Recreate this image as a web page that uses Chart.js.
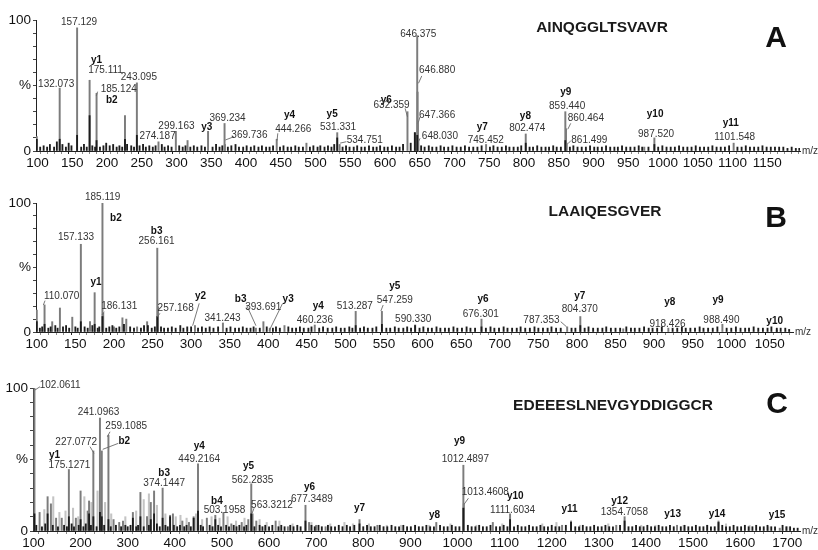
<!DOCTYPE html>
<html>
<head>
<meta charset="utf-8">
<script src="https://cdn.jsdelivr.net/npm/chart.js@4.4.1/dist/chart.umd.min.js"></script>
<style>
body { margin: 0; background: #fff; width: 818px; height: 550px; overflow: hidden; position: relative; font-family: "Liberation Sans", Arial, sans-serif; }
.panel { position: absolute; left: 0; width: 818px; }
.seq { position: absolute; font-weight: bold; font-size: 15.5px; color: #1a1a1a; transform: translate(-50%, -50%); white-space: nowrap; }
.tag { position: absolute; font-weight: bold; font-size: 30px; color: #111; transform: translate(-50%, -50%); }
</style>
</head>
<body>
<div class="panel" style="top:0;height:172px"><canvas id="cA" width="818" height="172"></canvas></div>
<div class="panel" style="top:178px;height:174px"><canvas id="cB" width="818" height="174"></canvas></div>
<div class="panel" style="top:368px;height:182px"><canvas id="cC" width="818" height="182"></canvas></div>
<div class="seq" id="seqA" style="left:602px;top:27px"></div>
<div class="tag" id="tagA" style="left:776px;top:37px"></div>
<div class="seq" id="seqB" style="left:605px;top:211px"></div>
<div class="tag" id="tagB" style="left:776px;top:217px"></div>
<div class="seq" id="seqC" style="left:613px;top:405px"></div>
<div class="tag" id="tagC" style="left:777px;top:403px"></div>
<script>
// sequences and panel letters
const sequences = ['AINQGGLTSVAVR', 'LAAIQESGVER', 'EDEEESLNEVGYDDIGGCR']
const panelTags = ['A', 'B', 'C']

// y axis tick labels (relative intensity)
const yTickValues = [0, 50, 100]
const yTickNames = ['0', '%', '100']

// ---- panel A : [m/z, %] ----
const peaksA = [[99.1,11],[132.07,48],[157.13,94],[175.11,54],[185.12,44],[226,27],[243.10,52],[274.19,7],[299.16,15],[316,8],
	[345.5,15],[369.23,21],[369.74,5],[444.27,9],[487,6],[531.33,14],[534.75,5],[632.36,30],[643,14],[646.38,88],[646.88,45],
	[647.37,21],[648.03,8],[745.45,5],[802.47,13],[859.44,30],[860.46,17],[861.50,6],[973,3],[987.52,10],[1101.55,6]]
const baseA = [[99.1,9],[132.1,9],[157.1,12],[175.1,27],[185.1,8],[226,9],[243.1,12],[643,14],[646.4,12],[531.3,10],[859.4,8],[987.5,5],[802.5,6]]
const noiseA = [[104,3],[109,4],[114,3],[118,5],[124,3],[128,7],[136,5],[141,3],[145,6],[149,4],[163,3],[167,5],[171,3],[179,4],[183,3],
	[190,3],[195,4],[199,6],[204,4],[209,5],[214,3],[218,4],[222,3],[229,5],[235,4],[239,3],[247,4],[252,5],[256,3],[261,4],[266,3],
	[270,4],[279,5],[283,3],[288,4],[293,3],[304,4],[309,3],[313,4],[320,3],[325,4],[330,3],[336,4],[341,3],[352,3],[357,5],[362,3],
	[366,4],[374,3],[379,4],[385,5],[390,3],[396,3],[401,4],[407,3],[412,4],[418,3],[423,4],[429,3],[434,3],[439,4],[449,3],[454,4],
	[460,3],[465,3],[471,4],[476,3],[482,3],[492,3],[497,4],[503,3],[507,4],[513,3],[518,4],[523,3],[527,5],[539,3],[544,4],[549,3],
	[555,3],[560,4],[566,3],[571,3],[577,4],[583,3],[588,3],[593,4],[599,3],[604,3],[610,4],[616,3],[621,3],[626,5],[637,6],[652,4],
	[657,3],[663,4],[668,3],[674,3],[680,4],[685,3],[691,3],[697,4],[703,3],[709,3],[715,4],[721,3],[727,3],[733,3],[739,4],[751,3],
	[756,4],[762,3],[768,3],[774,4],[779,3],[785,3],[791,3],[796,4],[808,3],[813,3],[819,4],[825,3],[831,3],[836,3],[842,4],[847,3],
	[853,3],[866,3],[871,4],[877,3],[883,3],[889,3],[895,4],[901,3],[906,3],[912,3],[918,4],[924,3],[930,3],[935,3],[941,4],[947,3],
	[953,3],[959,3],[965,4],[970,3],[979,3],[993,3],[999,4],[1005,3],[1011,3],[1017,3],[1023,4],[1029,3],[1035,3],[1041,3],[1047,4],
	[1053,3],[1059,3],[1065,3],[1071,4],[1077,3],[1083,3],[1089,3],[1095,4],[1107,3],[1113,3],[1119,4],[1125,3],[1131,3],[1137,3],
	[1143,4],[1149,3],[1155,3],[1161,3],[1167,3],[1173,3],[1179,2],[1185,3],[1191,2],[1196,2]]
// [m/z, %, text, bold]
const labelsA = [[160,98.5,'157.129',0],[127,51,'132.073',0],[185,69,'y1',1],[198,61.3,'175.111',0],[246,56.2,'243.095',0],
	[217,47,'185.124',0],[207,39,'b2',1],[273,11.5,'274.187',0],[300,19,'299.163',0],[343.6,18,'y3',1],[373.5,25,'369.234',0],
	[405,12.2,'369.736',0],[462.6,27,'y4',1],[468,16.6,'444.266',0],[524,28.2,'y5',1],[532.5,18.1,'531.331',0],[571,8.4,'534.751',0],
	[602,38.4,'y6',1],[609.5,35,'632.359',0],[648,89,'646.375',0],[675,62,'646.880',0],[675,27.5,'647.366',0],[679,11,'648.030',0],
	[740,18,'y7',1],[745,8,'745.452',0],[802,26.7,'y8',1],[804.6,17.3,'802.474',0],[860,44.5,'y9',1],[862,33.8,'859.440',0],
	[889,25,'860.464',0],[894,8.4,'861.499',0],[988.6,28.2,'y10',1],[990,12.7,'987.520',0],[1097.5,21,'y11',1],[1103,10.2,'1101.548',0]]
// [m/z, %, m/z, %]
const leadersA = [[186.6,45.3,184.7,42],[382.7,10.9,370.4,8.4],[445.8,13.5,444.8,8],[544.5,7.1,535.5,6],[629,32.5,632.4,26],
	[652.9,57.3,648.2,51.7],[650.5,26.2,647.5,21],[650.5,9.7,648,7],[867.2,21.1,863,16.6],[867.2,7.6,863.5,5.9]]

// ---- panel B ----
const peaksB = [[100,17],[110.07,21],[120,8],[130,18.6],[146,11.5],[157.13,68],[169,8],[175,30.5],[185.12,100],[186.13,14.5],
	[200,4],[211,11],[216,10],[230,4],[243,8],[256.16,65],[257.17,19.6],[305,5],[341.24,7],[384,3],[393.69,8],[402,3],[421,5],
	[460.24,5.4],[513.29,16],[547.26,16],[590.33,5.5],[676.30,10],[787.35,4],[804.37,12],[860,2.5],[918.43,3],[988.49,6],[1059,1.5]]
const baseB = [[100,8],[110.1,6],[157.1,8],[175,6],[185.1,12],[256.2,12],[213,6],[244,5],[513.3,5],[547.3,6],[590.3,5],[676.3,4],[804.4,5]]
const noiseB = [[104,3],[107,4],[115,3],[118,4],[124,5],[127,3],[134,4],[138,5],[142,3],[150,4],[153,3],[162,4],[166,3],[172,5],
	[179,3],[181,4],[190,3],[194,4],[198,5],[203,3],[207,4],[221,4],[226,3],[235,3],[239,5],[249,3],[253,4],[261,4],[265,3],
	[270,3],[275,4],[280,3],[286,5],[290,3],[295,4],[300,4],[309,3],[314,4],[319,3],[324,4],[329,3],[335,4],[346,3],[351,4],[357,3],
	[362,3],[367,4],[372,3],[377,3],[381,4],[389,3],[398,4],[406,3],[410,4],[415,3],[426,4],[431,3],[436,3],[441,4],[446,3],[452,3],
	[456,4],[466,3],[471,4],[477,3],[483,3],[488,4],[494,3],[499,3],[505,4],[509,3],[519,3],[524,4],[529,3],[535,3],[540,4],[553,3],
	[558,3],[564,4],[569,3],[575,3],[580,4],[585,3],[596,3],[601,4],[607,3],[612,3],[618,4],[623,3],[629,3],[634,3],[640,4],[645,3],
	[651,3],[657,4],[662,3],[668,3],[682,3],[688,4],[693,3],[699,3],[705,4],[710,3],[716,3],[722,3],[727,4],[733,3],[739,3],[745,4],
	[750,3],[756,3],[762,3],[767,4],[773,3],[779,3],[793,3],[798,3],[810,3],[815,4],[821,3],[827,3],[833,3],[838,4],[844,3],[850,3],
	[856,3],[864,4],[870,3],[875,3],[881,3],[887,4],[893,3],[898,3],[904,3],[910,4],[924,3],[930,3],[936,4],[941,3],[947,3],[953,3],
	[959,4],[964,3],[970,3],[976,3],[982,4],[994,3],[1000,3],[1006,4],[1012,3],[1018,3],[1023,3],[1029,4],[1035,3],[1041,3],[1047,3],
	[1052,4],[1059,3],[1064,3],[1070,3],[1075,2]]
const labelsB = [[185.4,104.4,'185.119',0],[202.6,88,'b2',1],[150.8,73.4,'157.133',0],[255.3,77.8,'b3',1],[255.3,70.5,'256.161',0],
	[132.3,27.4,'110.070',0],[176.7,38.2,'y1',1],[206.9,19.6,'186.131',0],[280,18.4,'257.168',0],[312.3,28.1,'y2',1],
	[340.8,10.6,'341.243',0],[364.2,25.6,'b3',1],[393.5,19.1,'393.691',0],[425.8,25.6,'y3',1],[464.7,19.6,'y4',1],
	[460.4,9.3,'460.236',0],[512.2,19.6,'513.287',0],[564,35.1,'y5',1],[564,24.3,'547.259',0],[587.8,9.8,'590.330',0],
	[678.4,25.3,'y6',1],[675.4,14,'676.301',0],[754,8.8,'787.353',0],[803.7,27.9,'y7',1],[803.7,17.6,'804.370',0],
	[920.2,22.7,'y8',1],[917.3,6,'918.426',0],[982.8,24.8,'y9',1],[987.2,9.3,'988.490',0],[1056.3,8,'y10',1]]
const leadersB = [[110.7,24.3,108.5,20.9],[187.5,15.7,184.5,13.2],[259.6,14.5,256.1,11.4],[310.5,22.2,302,4.9],[371.9,20.9,384,4.9],
	[418.6,22.2,401.2,1],[548.9,20.9,545.9,16.3],[779,8,786.4,4.1]]

// ---- panel C ----
const peaksC = [[102.06,100],[113,13],[130,24],[137,19],[148,9],[160,9],[175.13,43],[190,9],[200,28],[215,14],[218,21],[227.08,56],
	[241.10,79],[245,56],[259.11,67],[270,8],[282,6],[290,7],[311,13],[327,27],[341,10],[349,20],[356,28],[374.14,30],[390,11],
	[396,12],[416,7],[430,6],[440,10],[449.22,47],[468,9],[486,11],[503.20,13],[520,5],[542,6],[556,8],[562.28,33],[565,12],[573,7],
	[614,7],[640,3],[677.35,18],[685,6],[700,4],[720,3],[792,8],[830,4],[955,6],[1012.49,46],[1013.46,19],[1075,6],[1111.60,12],
	[1222,4],[1241,7],[1337,4],[1354.71,10],[1466,4],[1554,7],[1684,2]]
const lightC = [[123,15],[142,24],[155,13],[168,14],[184,16],[195,10],[208,24],[223,20],[236,28],[252,20],[265,12],[295,10],[318,14],
	[334,22],[345,26],[362,18],[380,12],[402,10],[412,11],[425,9],[445,12],[458,8],[478,10],[495,9],[512,10],[530,7],[548,9],[580,8],
	[595,6],[622,7],[650,5],[690,6],[730,5],[760,6],[778,5],[812,5],[850,4],[880,4],[910,4],[940,4],[985,5],[1040,4],[1095,5],[1180,5],
	[1210,6],[1260,4],[1320,5],[1390,4],[1420,4],[1480,4],[1530,4],[1570,5],[1620,4],[1660,3],[1700,3]]
const baseC = [[102.06,12],[130,12],[175.13,10],[200,8],[218,12],[227.08,10],[241.1,13],[245,10],[259.11,8],[311,9],[327,10],[349,8],
	[356,12],[374.14,9],[390,10],[440,9],[449.22,14],[486,8],[562.28,12],[677.35,7],[792,5],[1012.49,16],[1111.6,8],[1241,6],[1354.7,7],[1554,6]]
const noiseC = [[106,4],[118,3],[125,5],[141,4],[152,3],[165,4],[171,3],[181,5],[186,3],[196,4],[206,3],[211,5],[222,4],[234,3],[250,4],
	[264,3],[275,4],[286,3],[295,4],[300,3],[306,4],[318,3],[322,4],[334,3],[345,4],[362,5],[368,3],[380,4],[385,3],[398,4],[405,3],
	[411,4],[420,3],[425,4],[434,3],[455,4],[460,3],[474,4],[480,3],[492,4],[498,3],[509,4],[515,3],[525,4],[531,3],[537,4],[547,3],
	[552,4],[569,3],[580,4],[586,3],[592,4],[600,3],[607,4],[620,3],[626,4],[633,3],[645,4],[652,3],[660,4],[667,3],[690,4],[697,3],
	[705,4],[712,3],[725,4],[732,3],[740,3],[748,4],[756,3],[765,4],[772,3],[781,4],[800,3],[808,4],[816,3],[824,3],[835,4],[843,3],
	[851,3],[860,4],[868,3],[876,3],[885,4],[893,3],[901,3],[910,4],[918,3],[926,3],[934,4],[942,3],[950,3],[963,4],[971,3],[979,3],
	[988,4],[996,3],[1004,3],[1022,4],[1030,3],[1038,3],[1046,4],[1054,3],[1062,3],[1070,4],[1082,3],[1090,3],[1098,4],[1106,3],
	[1120,3],[1128,4],[1136,3],[1144,3],[1152,4],[1160,3],[1168,3],[1176,4],[1184,3],[1192,3],[1200,4],[1208,3],[1216,3],[1230,4],
	[1250,3],[1258,3],[1266,4],[1274,3],[1282,3],[1290,4],[1298,3],[1306,3],[1314,4],[1322,3],[1330,3],[1345,4],[1363,3],[1371,3],
	[1379,4],[1387,3],[1395,3],[1403,4],[1411,3],[1419,3],[1427,4],[1435,3],[1443,3],[1451,4],[1459,3],[1474,3],[1482,4],[1490,3],
	[1498,3],[1506,4],[1514,3],[1522,3],[1530,4],[1538,3],[1546,3],[1562,4],[1570,3],[1578,3],[1586,4],[1594,3],[1602,3],[1610,4],
	[1618,3],[1626,3],[1634,4],[1642,3],[1650,3],[1658,4],[1666,3],[1674,3],[1690,4],[1698,3],[1706,3],[1714,2],[1722,2]]
const labelsC = [[156.7,102,'102.0611',0],[238,82.7,'241.0963',0],[296.8,73.4,'259.1085',0],[190.7,62.4,'227.0772',0],[292.6,63,'b2',1],
	[144.6,53.1,'y1',1],[176.4,46.2,'175.1271',0],[451.8,59.4,'y4',1],[451.8,50.1,'449.2164',0],[377.5,40.3,'b3',1],
	[377.5,33.4,'374.1447',0],[556.5,45,'y5',1],[565,35.2,'562.2835',0],[489.4,20.5,'b4',1],[505.5,14.7,'503.1958',0],
	[606.2,18.2,'563.3212',0],[686,30.6,'y6',1],[691,22.2,'677.3489',0],[792,15.9,'y7',1],[951.4,10.7,'y8',1],[1004.5,63.1,'y9',1],
	[1016.6,50.1,'1012.4897',0],[1059,26.8,'1013.4608',0],[1122.7,24.5,'y10',1],[1117,14.7,'1111.6034',0],[1238,15.2,'y11',1],
	[1344.2,20.5,'y12',1],[1354.2,13,'1354.7058',0],[1456.7,11.7,'y13',1],[1551,11.7,'y14',1],[1678.3,10.7,'y15',1]]
const leadersC = [[113.9,100.9,103.2,98.6],[262.5,69.4,256.7,65.9],[220,59,228.5,54.3],[280.1,61.3,247,57.1],[568.2,15.9,564,12.4],
	[1023.2,22.9,1014,18.7]]

const FONT = '"Liberation Sans", Arial, sans-serif'

function toXY(arr) {
	return arr.map(p => ({ x: p[0], y: p[1] }))
}

// draws the peak annotations, leader lines and the m/z axis caption
function annotations(labels, leaders) {
	return {
		id: 'annotations',
		afterDraw(chart) {
			const { ctx, chartArea } = chart
			const x = chart.scales.x
			const y = chart.scales.y
			ctx.save()
			ctx.strokeStyle = '#6a6a6a'
			ctx.lineWidth = 0.9
			leaders.forEach(l => {
				ctx.beginPath()
				ctx.moveTo(x.getPixelForValue(l[0]), y.getPixelForValue(l[1]))
				ctx.lineTo(x.getPixelForValue(l[2]), y.getPixelForValue(l[3]))
				ctx.stroke()
			})
			ctx.textAlign = 'center'
			ctx.textBaseline = 'middle'
			labels.forEach(l => {
				ctx.font = (l[3] ? 'bold 10px ' : '10px ') + FONT
				ctx.fillStyle = l[3] ? '#111' : '#333'
				ctx.fillText(l[2], x.getPixelForValue(l[0]), y.getPixelForValue(l[1]))
			})
			ctx.font = '10px ' + FONT
			ctx.fillStyle = '#333'
			ctx.textAlign = 'left'
			ctx.fillText('m/z', chartArea.right + 2, chartArea.bottom)
			ctx.restore()
		}
	}
}

function spectrum(id, o) {
	return new Chart(document.getElementById(id), {
		type: 'bar',
		data: {
			datasets: [{
				data: toXY(o.light || []),
				backgroundColor: '#c4c4c4',
				barThickness: 1.4,
				grouped: false,
				order: 3
			}, {
				data: toXY(o.peaks),
				backgroundColor: '#7c7c7c',
				barThickness: 1.3,
				grouped: false,
				order: 2
			}, {
				data: toXY(o.base.concat(o.noise)),
				backgroundColor: '#1c1c1c',
				barThickness: 1.2,
				grouped: false,
				order: 1
			}]
		},
		options: {
			responsive: false,
			animation: false,
			layout: { padding: { top: o.top, right: o.right, left: 0, bottom: 0 } },
			plugins: { legend: { display: false }, tooltip: { enabled: false } },
			scales: {
				x: {
					type: 'linear',
					min: o.min,
					max: o.max,
					offset: false,
					grid: {
						drawOnChartArea: false,
						tickLength: 3,
						tickColor: c => (c.tick && c.tick.value % o.major === 0) ? '#222' : '#888'
					},
					border: { color: '#222', width: 1 },
					ticks: {
						stepSize: o.minor,
						includeBounds: false,
						autoSkip: false,
						maxRotation: 0,
						padding: 1,
						color: '#111',
						font: { size: 13.5, family: FONT },
						callback: v => v % o.major === 0 ? String(v) : ''
					},
					afterFit: s => { s.height = o.xh }
				},
				y: {
					min: 0,
					max: 100,
					grid: { drawOnChartArea: false, tickLength: 3, tickColor: '#444' },
					border: { color: '#222', width: 1 },
					ticks: {
						stepSize: 10,
						autoSkip: false,
						padding: 2,
						color: '#111',
						font: { size: 13.5, family: FONT },
						callback: v => {
							const i = yTickValues.indexOf(v)
							return i >= 0 ? yTickNames[i] : ''
						}
					},
					afterFit: s => { s.width = o.yw }
				}
			}
		},
		plugins: [annotations(o.labels, o.leaders)]
	})
}

spectrum('cA', { peaks: peaksA, base: baseA, noise: noiseA, labels: labelsA, leaders: leadersA,
	min: 98, max: 1197, minor: 10, major: 50, top: 20, right: 18, xh: 21, yw: 36 })
spectrum('cB', { peaks: peaksB, base: baseB, noise: noiseB, labels: labelsB, leaders: leadersB,
	min: 99, max: 1080, minor: 10, major: 50, top: 25, right: 25, xh: 20, yw: 36 })
spectrum('cC', { peaks: peaksC, light: lightC, base: baseC, noise: noiseC, labels: labelsC, leaders: leadersC,
	min: 99, max: 1727, minor: 20, major: 100, top: 20, right: 18, xh: 19, yw: 33 })

panelTags.forEach((t, i) => {
	document.getElementById('seq' + t).textContent = sequences[i]
	document.getElementById('tag' + t).textContent = t
})
</script>
</body>
</html>
